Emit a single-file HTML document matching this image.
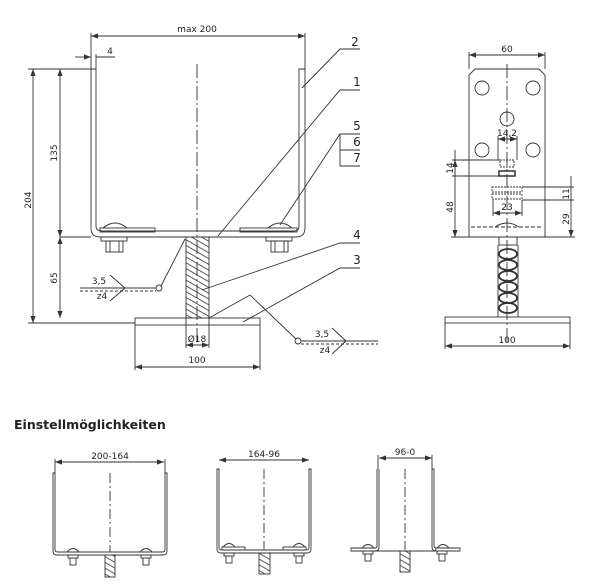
<!DOCTYPE html>
<html><head><meta charset="utf-8"><style>
html,body{margin:0;padding:0;background:#fff;}
svg{display:block;font-family:"DejaVu Sans","Liberation Sans",sans-serif;}
text{fill:#222;font-size:9px;}
.t{font-size:12px;}
</style></head><body>
<svg width="600" height="586" viewBox="0 0 600 586" xmlns="http://www.w3.org/2000/svg">
<defs>
<pattern id="h" width="5" height="5" patternUnits="userSpaceOnUse" patternTransform="rotate(-60)">
<line x1="0" y1="0" x2="0" y2="5" stroke="#333" stroke-width="1.6"/></pattern>
<marker id="a" markerWidth="8" markerHeight="6" refX="8" refY="3" orient="auto-start-reverse"><path d="M0,0 L8,3 L0,6z" fill="#333"/></marker>
</defs>
<g fill="none" stroke="#333" stroke-width="0.9">
<!-- main view -->
<line x1="91" y1="36" x2="305" y2="36" marker-start="url(#a)" marker-end="url(#a)"/>
<line x1="91" y1="33" x2="91" y2="69"/><line x1="305" y1="33" x2="305" y2="69"/>
<line x1="75" y1="57" x2="91" y2="57" marker-end="url(#a)"/><line x1="96" y1="57" x2="115" y2="57"/>
<line x1="96" y1="54" x2="96" y2="69"/>
<path d="M91,69 V228 Q91,237 100,237 H296 Q305,237 305,228 V69 H299 V226 Q299,231 294,231 H102 Q96,231 96,226 V69 Z"/>
<line x1="60" y1="237" x2="91" y2="237"/>
<rect x="100" y="228" width="55" height="4"/><rect x="240" y="228" width="57" height="4"/>
<path d="M103,228 Q115,218 127,228"/><path d="M268,228 Q280,218 292,228"/>
<rect x="101" y="237" width="26" height="4"/><rect x="266" y="237" width="26" height="4"/>
<rect x="106" y="241" width="17" height="11"/><rect x="271" y="241" width="17" height="11"/>
<line x1="110" y1="241" x2="110" y2="252"/><line x1="119" y1="241" x2="119" y2="252"/>
<line x1="275" y1="241" x2="275" y2="252"/><line x1="284" y1="241" x2="284" y2="252"/>
<rect x="186" y="237" width="23" height="81" fill="url(#h)"/>
<rect x="135" y="318" width="125" height="7"/>
<line x1="197" y1="64" x2="197" y2="345" stroke-dasharray="14,3,2,3"/>
<line x1="28" y1="69" x2="95" y2="69"/><line x1="28" y1="323" x2="135" y2="323"/>
<line x1="33" y1="69" x2="33" y2="323" marker-start="url(#a)" marker-end="url(#a)"/>
<line x1="60" y1="69" x2="60" y2="237" marker-start="url(#a)" marker-end="url(#a)"/>
<line x1="60" y1="237" x2="60" y2="318" marker-start="url(#a)" marker-end="url(#a)"/>
<line x1="186" y1="318" x2="186" y2="348"/><line x1="209" y1="318" x2="209" y2="348"/>
<line x1="186" y1="345" x2="209" y2="345" marker-start="url(#a)" marker-end="url(#a)"/>
<line x1="135" y1="325" x2="135" y2="370"/><line x1="260" y1="325" x2="260" y2="370"/>
<line x1="135" y1="367" x2="260" y2="367" marker-start="url(#a)" marker-end="url(#a)"/>
<!-- leaders -->
<polyline points="360,49 340,49 302,88"/><polyline points="360,90 340,90 218,236"/>
<polyline points="360,134 340,134 280,225"/><line x1="340" y1="134" x2="340" y2="166"/>
<line x1="340" y1="150" x2="360" y2="150"/><line x1="340" y1="166" x2="360" y2="166"/>
<polyline points="360,243 340,243 202,290"/><polyline points="360,268 340,268 243,322"/>
<!-- welds -->
<line x1="80" y1="288" x2="156" y2="288"/><line x1="80" y1="291" x2="156" y2="291" stroke-dasharray="3,2"/>
<polyline points="110,275 125,288 110,301"/>
<circle cx="159" cy="288" r="3"/><line x1="161" y1="286" x2="185" y2="239"/>
<line x1="301" y1="341" x2="378" y2="341"/><line x1="301" y1="344" x2="378" y2="344" stroke-dasharray="3,2"/>
<polyline points="332,328 346,341 332,354"/>
<circle cx="298" cy="341" r="3"/><polyline points="296,339 250,295 209,318"/>
<!-- side view -->
<line x1="469" y1="55" x2="545" y2="55" marker-start="url(#a)" marker-end="url(#a)"/>
<line x1="469" y1="52" x2="469" y2="69"/><line x1="545" y1="52" x2="545" y2="69"/>
<path d="M475,69 H539 L545,75 V237 H469 V75 Z"/>
<circle cx="482" cy="88" r="7"/><circle cx="533" cy="88" r="7"/><circle cx="507" cy="119" r="7"/>
<circle cx="482" cy="150" r="7"/><circle cx="533" cy="150" r="7"/>
<line x1="498" y1="139" x2="517" y2="139" marker-start="url(#a)" marker-end="url(#a)"/>
<line x1="498" y1="136" x2="498" y2="160"/><line x1="517" y1="136" x2="517" y2="160"/>
<rect x="500" y="160" width="14" height="7" stroke-dasharray="2,1"/><rect x="499" y="171" width="16" height="5" stroke-width="1.5"/>
<rect x="492" y="187" width="30" height="5" stroke-dasharray="2,1"/><rect x="492" y="194" width="30" height="5" stroke-dasharray="2,1"/>
<line x1="493" y1="200" x2="493" y2="216"/><line x1="522" y1="200" x2="522" y2="216"/>
<line x1="493" y1="213" x2="522" y2="213" marker-start="url(#a)" marker-end="url(#a)"/>
<line x1="452" y1="160" x2="500" y2="160"/><line x1="452" y1="176" x2="499" y2="176"/>
<line x1="455" y1="150" x2="455" y2="237" marker-end="url(#a)"/><line x1="455" y1="160" x2="455" y2="176" marker-start="url(#a)"/>
<line x1="522" y1="187" x2="574" y2="187"/><line x1="522" y1="200" x2="574" y2="200"/>
<line x1="571" y1="176" x2="571" y2="237" marker-end="url(#a)"/>
<line x1="451" y1="237" x2="469" y2="237"/><line x1="545" y1="237" x2="575" y2="237"/>
<line x1="471" y1="227" x2="543" y2="227" stroke-dasharray="4,2"/><path d="M495,227 Q507,219 519,227"/>
<rect x="499" y="237" width="18" height="8"/>
<line x1="498" y1="245" x2="498" y2="317"/><line x1="518" y1="245" x2="518" y2="317"/>
<g stroke-width="1.8">
<ellipse cx="508" cy="254" rx="9" ry="5"/><ellipse cx="508" cy="265" rx="9" ry="5"/>
<ellipse cx="508" cy="276" rx="9" ry="5"/><ellipse cx="508" cy="287" rx="9" ry="5"/>
<ellipse cx="508" cy="298" rx="9" ry="5"/><ellipse cx="508" cy="308" rx="9" ry="5"/>
</g>
<line x1="507" y1="64" x2="507" y2="345" stroke-dasharray="14,3,2,3"/>
<rect x="445" y="317" width="125" height="6"/>
<line x1="445" y1="323" x2="445" y2="349"/><line x1="570" y1="323" x2="570" y2="349"/>
<line x1="445" y1="346" x2="570" y2="346" marker-start="url(#a)" marker-end="url(#a)"/>
<!-- bottom figs -->
<line x1="55" y1="462" x2="164" y2="462" marker-start="url(#a)" marker-end="url(#a)"/>
<path d="M53,473 V551 Q53,555 57,555 H163 Q167,555 167,551 V473 H165 V550 Q165,552 162,552 H58 Q55,552 55,550 V473 Z"/>
<line x1="55" y1="459" x2="55" y2="473"/><line x1="165" y1="459" x2="165" y2="473"/>
<path d="M67,552 Q73,545 79,552"/><path d="M140,552 Q146,545 152,552"/>
<rect x="68" y="555" width="10" height="3"/><rect x="141" y="555" width="10" height="3"/>
<rect x="70" y="558" width="6" height="7"/><rect x="143" y="558" width="6" height="7"/>
<rect x="105" y="555" width="10" height="22" fill="url(#h)"/>
<line x1="110" y1="473" x2="110" y2="552" stroke-dasharray="10,3,2,3"/>
<line x1="219" y1="460" x2="309" y2="460" marker-start="url(#a)" marker-end="url(#a)"/>
<path d="M217,469 V549 Q217,553 221,553 H307 Q311,553 311,549 V469 H309 V548 Q309,550 306,550 H222 Q219,550 219,548 V469 Z"/>
<rect x="222" y="547" width="23" height="3"/><rect x="283" y="547" width="23" height="3"/>
<path d="M223,547 Q229,540 235,547"/><path d="M293,547 Q299,540 305,547"/>
<rect x="224" y="553" width="10" height="3"/><rect x="294" y="553" width="10" height="3"/>
<rect x="226" y="556" width="6" height="7"/><rect x="296" y="556" width="6" height="7"/>
<rect x="259" y="553" width="11" height="21" fill="url(#h)"/>
<line x1="264" y1="469" x2="264" y2="550" stroke-dasharray="10,3,2,3"/>
<line x1="379" y1="458" x2="432" y2="458" marker-start="url(#a)" marker-end="url(#a)"/>
<line x1="378" y1="455" x2="378" y2="469"/><line x1="432" y1="455" x2="432" y2="469"/>
<path d="M377,469 V546 Q377,548 375,548 H351 V551 H434 Q436,551 436,548"/>
<path d="M379,469 V547 Q379,551 375,551 M432,469 V547 Q432,551 436,551 H460 V548 H437 Q434,548 434,546 V469 Z"/>
<path d="M362,548 Q368,541 374,548"/><path d="M437,548 Q443,541 449,548"/>
<rect x="363" y="551" width="10" height="3"/><rect x="437" y="551" width="10" height="3"/>
<rect x="365" y="554" width="6" height="7"/><rect x="439" y="554" width="6" height="7"/>
<rect x="400" y="551" width="10" height="21" fill="url(#h)"/>
<line x1="405" y1="469" x2="405" y2="550" stroke-dasharray="10,3,2,3"/>
</g>
<text x="197" y="32" text-anchor="middle">max 200</text>
<text x="110" y="54" text-anchor="middle">4</text>
<text x="355" y="46" class="t" text-anchor="middle">2</text>
<text x="357" y="86" class="t" text-anchor="middle">1</text>
<text x="357" y="130" class="t" text-anchor="middle">5</text>
<text x="357" y="146" class="t" text-anchor="middle">6</text>
<text x="357" y="162" class="t" text-anchor="middle">7</text>
<text x="357" y="239" class="t" text-anchor="middle">4</text>
<text x="357" y="264" class="t" text-anchor="middle">3</text>
<text transform="translate(31,200) rotate(-90)" text-anchor="middle">204</text>
<text transform="translate(57,153) rotate(-90)" text-anchor="middle">135</text>
<text transform="translate(57,278) rotate(-90)" text-anchor="middle">65</text>
<text x="197" y="342" text-anchor="middle">Ø18</text>
<text x="197" y="363" text-anchor="middle">100</text>
<text x="99" y="284" text-anchor="middle">3,5</text><text x="102" y="299" text-anchor="middle">z4</text>
<text x="322" y="337" text-anchor="middle">3,5</text><text x="325" y="353" text-anchor="middle">z4</text>
<text x="507" y="52" text-anchor="middle">60</text>
<text x="507" y="136" text-anchor="middle">14,2</text>
<text transform="translate(453,168) rotate(-90)" text-anchor="middle">14</text>
<text transform="translate(453,207) rotate(-90)" text-anchor="middle">48</text>
<text x="507" y="210" text-anchor="middle">23</text>
<text transform="translate(569,194) rotate(-90)" text-anchor="middle">11</text>
<text transform="translate(569,219) rotate(-90)" text-anchor="middle">29</text>
<text x="507" y="343" text-anchor="middle">100</text>
<text x="14" y="429" style="font-size:12.5px;font-weight:bold;font-family:'DejaVu Sans',sans-serif">Einstellmöglichkeiten</text>
<text x="110" y="459" text-anchor="middle">200-164</text>
<text x="264" y="457" text-anchor="middle">164-96</text>
<text x="405" y="455" text-anchor="middle">96-0</text>
</svg>
</body></html>
